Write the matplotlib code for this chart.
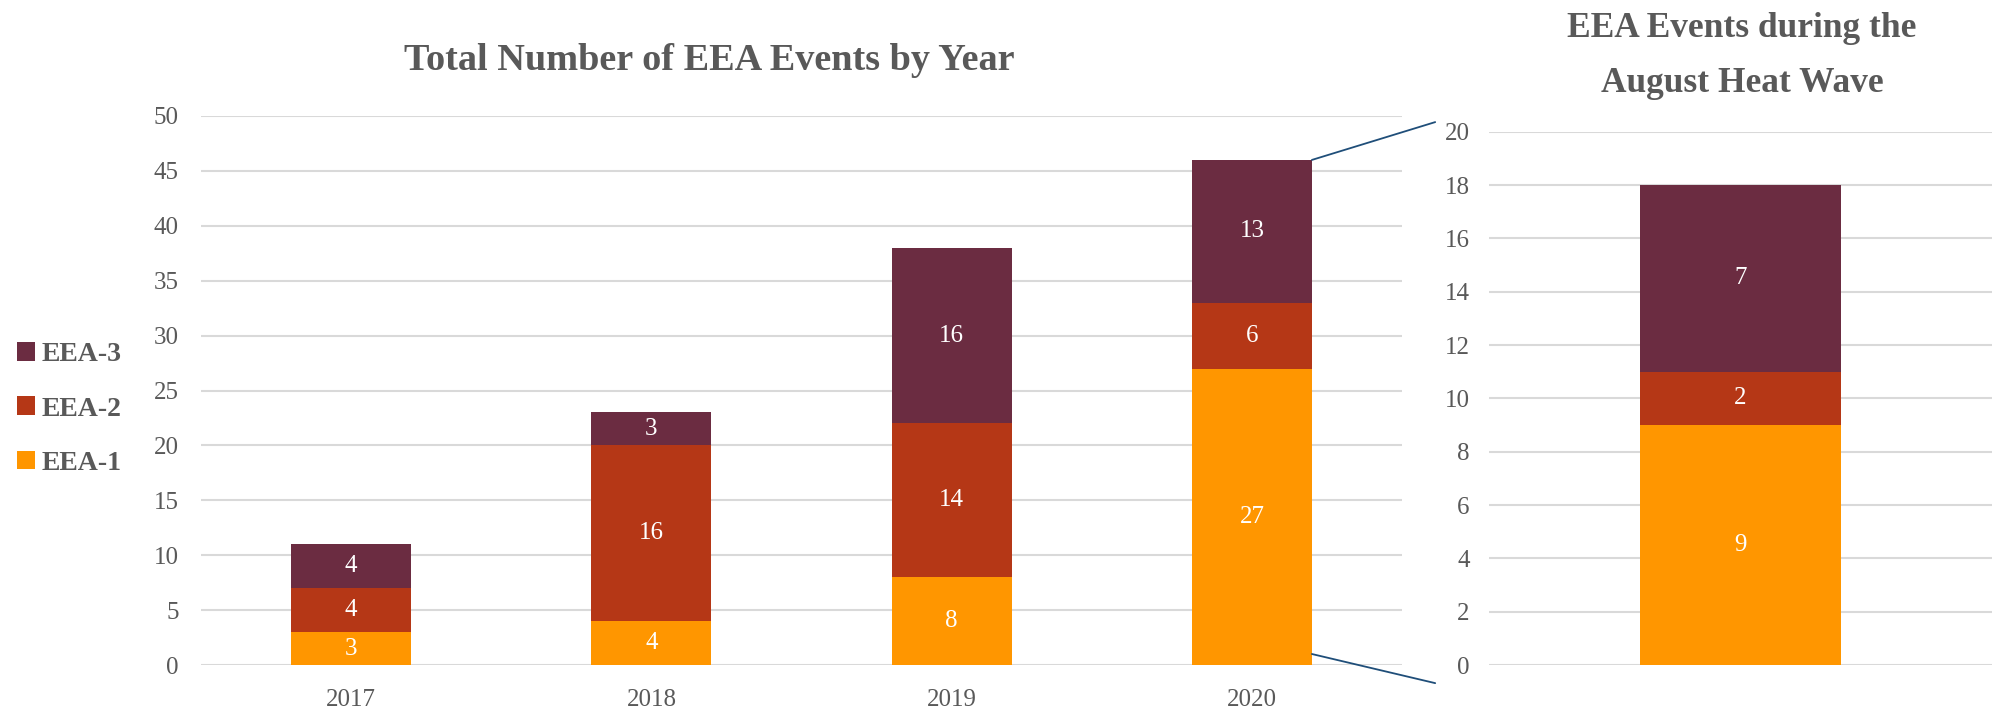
import matplotlib.pyplot as plt
from matplotlib.patches import ConnectionPatch

plt.rcParams['font.family'] = ['Liberation Serif', 'DejaVu Serif']

years = ['2017', '2018', '2019', '2020']
eea1 = [3, 4, 8, 27]
eea2 = [4, 16, 14, 6]
eea3 = [4, 3, 16, 13]

wave_eea1 = [9]
wave_eea2 = [2]
wave_eea3 = [7]

c1 = '#FF9600'
c2 = '#B53716'
c3 = '#6B2C41'
grey = '#595959'
gridc = '#D9D9D9'

fig = plt.figure(figsize=(19.92, 7.11), dpi=100)
W, H = 1992, 711
ax1 = fig.add_axes([201 / W, 46 / H, 1201 / W, 549 / H])
ax2 = fig.add_axes([1489 / W, 46 / H, 503 / W, 533.3 / H])


def stacked(ax, cats, s1, s2, s3, pad):
	x = range(len(cats))
	b1 = ax.bar(x, s1, 0.4, color=c1, label='EEA-1', zorder=3)
	bot = list(s1)
	b2 = ax.bar(x, s2, 0.4, bottom=bot, color=c2, label='EEA-2', zorder=3)
	bot2 = [a + b for a, b in zip(s1, s2)]
	b3 = ax.bar(x, s3, 0.4, bottom=bot2, color=c3, label='EEA-3', zorder=3)
	for bars in (b1, b2, b3):
		ax.bar_label(bars, label_type='center', color='white', fontsize=18)
	for sp in ax.spines.values():
		sp.set_visible(False)
	ax.yaxis.grid(True, color=gridc, linewidth=1.5, zorder=0)
	ax.tick_params(length=0, colors=grey, labelsize=18)
	ax.tick_params(axis='y', pad=pad)
	ax.set_xlim(-0.5, len(cats) - 0.5)
	return b1, b2, b3


h = stacked(ax1, years, eea1, eea2, eea3, 16)
ax1.set_xticks(range(len(years)))
ax1.set_xticklabels(years)
ax1.tick_params(axis='x', pad=17)
ax1.set_ylim(0, 50)
ax1.set_yticks(range(0, 51, 5))

stacked(ax2, [''], wave_eea1, wave_eea2, wave_eea3, 14)
ax2.set_xticks([])
ax2.set_ylim(0, 20)
ax2.set_yticks(range(0, 21, 2))

fig.text(709 / W, 1 - 60 / H, 'Total Number of EEA Events by Year', ha='center', va='center',
	fontsize=27.5, fontweight='bold', color=grey)
fig.text(1742 / W, 1 - 56 / H, 'EEA Events during the\nAugust Heat Wave', ha='center', va='center',
	fontsize=25.5, fontweight='bold', color=grey, linespacing=1.85)

fig.legend(handles=[h[2], h[1], h[0]], loc='center left', bbox_to_anchor=(-0.004, 1 - 409 / H),
	frameon=False, prop={'size': 20, 'weight': 'bold'}, labelcolor=grey,
	handlelength=0.65, handleheight=0.65, handletextpad=0.25, labelspacing=1.05)

# zoom connector lines
top = eea1[3] + eea2[3] + eea3[3]
for ya, yb in ((top, 1.018), (1, -0.034)):
	con = ConnectionPatch(xyA=(3.2, ya), coordsA=ax1.transData, xyB=(-0.107, yb), coordsB=ax2.transAxes,
		color='#1F4E79', linewidth=1.3)
	fig.add_artist(con)

plt.savefig('out.png', dpi=100)
